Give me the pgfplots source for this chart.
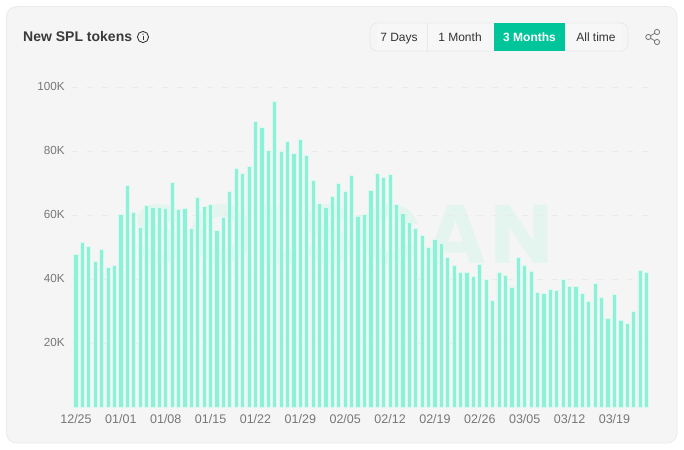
\documentclass[border=0pt]{standalone}
\usepackage{pgfplots}
\usepackage{pgfplotstable}
\usepackage{fontspec}
\pgfplotsset{compat=1.18}
\setmainfont{Liberation Sans}
\newfontfamily\wm[LetterSpace=5]{Poppins}
\definecolor{card}{HTML}{F5F5F5}
\definecolor{cardline}{HTML}{EBEBEB}
\definecolor{barc}{HTML}{8DF0D8}
\definecolor{barpale}{HTML}{DCF9F0}
\definecolor{gridc}{HTML}{EAEAEA}
\definecolor{tickc}{HTML}{777777}
\definecolor{titlec}{HTML}{3A3A3A}
\definecolor{btn}{HTML}{00C49A}
\definecolor{btnline}{HTML}{E9E9E9}
\definecolor{wmc}{HTML}{E4F5F0}
\pgfplotstableread{
idx val
0 47900
1 51400
2 50300
3 45500
4 49200
5 43600
6 44200
7 60400
8 69400
9 61000
10 56200
11 63100
12 62500
13 62300
14 62000
15 70300
16 61900
17 62200
18 56000
19 65600
20 62700
21 63300
22 55400
23 59300
24 67400
25 74600
26 73000
27 75200
28 89300
29 87500
30 80400
31 95700
32 80100
33 83000
34 79200
35 83700
36 78600
37 71000
38 63700
39 62500
40 66000
41 69800
42 67600
43 72500
44 59500
45 60200
46 67900
47 73200
48 71900
49 72700
50 63400
51 60700
52 57900
53 56000
54 53700
55 49800
56 52300
57 51300
58 46900
59 44300
60 42100
61 42100
62 41000
63 44700
64 39800
65 33500
66 42000
67 41300
68 37600
69 46800
70 44300
71 42600
72 35900
73 35700
74 36900
75 36600
76 39800
77 37800
78 37900
79 35600
80 33100
81 38800
82 34200
83 27700
84 35200
85 27200
86 26300
87 29800
88 42800
89 42200
}\splvalues
\begin{document}
\begin{tikzpicture}[x=1pt,y=-1pt]
\fill[white] (0,0) rectangle (684,449);
\filldraw[fill=card,draw=cardline,line width=0.8pt,rounded corners=10pt] (6.5,6.5) rectangle (677,443);
% watermark
\node[anchor=center,text=wmc,inner sep=0pt,font=\wm\bfseries\fontsize{83}{83}\selectfont] at (344,234) {SOLSCAN};
% title
\node[anchor=west,inner sep=0pt,text=titlec,font=\bfseries\fontsize{14}{16}\selectfont] at (23,36.5) {New SPL tokens};
\draw[titlec,line width=0.9pt] (143,37) circle (5.6);
\fill[titlec] (142.5,36) rectangle (143.6,40);
\fill[titlec] (143,34.2) circle (0.7);
% range buttons
\fill[white!20!card] (377,23.2) rectangle (494,50.8);
\fill[white!20!card] (565,23.2) rectangle (621,50.8);
\fill[btn] (494,23) rectangle (565,51);
\draw[btnline,line width=0.8pt,rounded corners=7pt] (494,23) -- (370,23) -- (370,51) -- (494,51);
\draw[btnline,line width=0.8pt,rounded corners=7pt] (565,23) -- (628,23) -- (628,51) -- (565,51);
\draw[btnline,line width=0.8pt] (427.7,23) -- (427.7,51);
\node[anchor=base,text=black!80,inner sep=0pt,font=\fontsize{12}{14}\selectfont] at (399,41.2) {7 Days};
\node[anchor=base,text=black!80,inner sep=0pt,font=\fontsize{12}{14}\selectfont] at (460,41.2) {1 Month};
\node[anchor=base,text=white,inner sep=0pt,font=\bfseries\fontsize{12}{14}\selectfont] at (529.5,41.2) {3 Months};
\node[anchor=base,text=black!80,inner sep=0pt,font=\fontsize{12}{14}\selectfont] at (596,41.2) {All time};
% share icon
\draw[black!55,line width=0.8pt] (657,32) -- (648.3,37) -- (657,42);
\filldraw[fill=card,draw=black!55,line width=0.8pt] (657,32) circle (2.6) (648.3,37) circle (2.6) (657,42) circle (2.6);
\begin{axis}[
  at={(76pt,-407.3pt)}, anchor=origin,
  scale only axis, width=577pt, height=320pt,
  xmin=-0.624, xmax=89.39, ymin=0, ymax=100000,
  axis x line*=bottom, axis y line*=left,
  x axis line style={draw=none}, y axis line style={draw=none},
  tick style={draw=none}, major tick length=0pt,
  scaled y ticks=false,
  xtick={0,7,14,21,28,35,42,49,56,63,70,77,84},
  xticklabels={12/25,01/01,01/08,01/15,01/22,01/29,02/05,02/12,02/19,02/26,03/05,03/12,03/19},
  ytick={20000,40000,60000,80000,100000},
  yticklabels={20K,40K,60K,80K,100K},
  ymajorgrids,
  grid style={gridc,line width=0.7pt,dash pattern=on 6pt off 9pt},
  ticklabel style={text=tickc,inner sep=0pt},
  yticklabel style={anchor=east,xshift=-7pt,yshift=1pt,font=\fontsize{11.7}{14}\selectfont},
  xticklabel style={anchor=center,yshift=-12pt,font=\fontsize{12.5}{14}\selectfont},
  ybar, bar width=4.2pt, bar shift=0pt,
]
\addplot[fill=barc,draw=barpale,line width=0.9pt] table[x=idx,y=val] {\splvalues};
\end{axis}
\end{tikzpicture}
\end{document}
